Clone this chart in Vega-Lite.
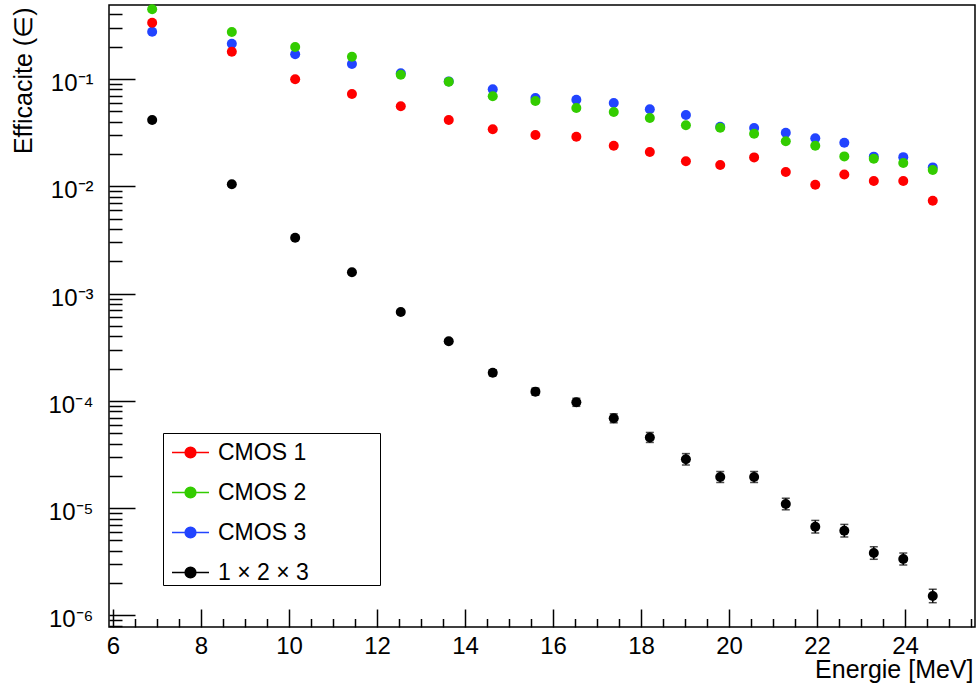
{
  "$schema": "https://vega.github.io/schema/vega-lite/v6.json",
  "width": 866,
  "height": 622,
  "autosize": {"type": "none"},
  "padding": {"left": 109, "top": 5, "right": 3, "bottom": 61},
  "background": "white",
  "config": {
    "font": "Liberation Sans",
    "view": {"stroke": "#000000", "strokeWidth": 1.5},
    "axis": {
      "domain": false,
      "grid": false,
      "labelFont": "Liberation Sans",
      "labelFontSize": 24,
      "labelColor": "#000000",
      "tickColor": "#000000",
      "tickWidth": 1.5,
      "titleFont": "Liberation Sans",
      "titleFontSize": 25,
      "titleFontWeight": "normal",
      "titleColor": "#000000",
      "labelFlush": false,
      "labelOverlap": false,
      "labelBound": false
    }
  },
  "data": {
    "values": [
      {"E": 6.89, "v": 0.276, "s": "CMOS 3"},
      {"E": 8.70, "v": 0.213, "s": "CMOS 3"},
      {"E": 10.14, "v": 0.170, "s": "CMOS 3"},
      {"E": 11.43, "v": 0.138, "s": "CMOS 3"},
      {"E": 12.54, "v": 0.113, "s": "CMOS 3"},
      {"E": 13.63, "v": 0.0950, "s": "CMOS 3"},
      {"E": 14.63, "v": 0.0801, "s": "CMOS 3"},
      {"E": 15.60, "v": 0.0665, "s": "CMOS 3"},
      {"E": 16.53, "v": 0.0641, "s": "CMOS 3"},
      {"E": 17.38, "v": 0.0597, "s": "CMOS 3"},
      {"E": 18.20, "v": 0.0522, "s": "CMOS 3"},
      {"E": 19.02, "v": 0.0462, "s": "CMOS 3"},
      {"E": 19.80, "v": 0.0359, "s": "CMOS 3"},
      {"E": 20.57, "v": 0.0349, "s": "CMOS 3"},
      {"E": 21.29, "v": 0.0316, "s": "CMOS 3"},
      {"E": 21.96, "v": 0.0280, "s": "CMOS 3"},
      {"E": 22.62, "v": 0.0255, "s": "CMOS 3"},
      {"E": 23.29, "v": 0.0189, "s": "CMOS 3"},
      {"E": 23.96, "v": 0.0187, "s": "CMOS 3"},
      {"E": 24.63, "v": 0.0150, "s": "CMOS 3"},
      {"E": 6.89, "v": 0.446, "s": "CMOS 2"},
      {"E": 8.70, "v": 0.274, "s": "CMOS 2"},
      {"E": 10.14, "v": 0.1987, "s": "CMOS 2"},
      {"E": 11.43, "v": 0.1613, "s": "CMOS 2"},
      {"E": 12.54, "v": 0.1097, "s": "CMOS 2"},
      {"E": 13.63, "v": 0.0944, "s": "CMOS 2"},
      {"E": 14.63, "v": 0.0690, "s": "CMOS 2"},
      {"E": 15.60, "v": 0.0624, "s": "CMOS 2"},
      {"E": 16.53, "v": 0.0537, "s": "CMOS 2"},
      {"E": 17.38, "v": 0.0493, "s": "CMOS 2"},
      {"E": 18.20, "v": 0.0433, "s": "CMOS 2"},
      {"E": 19.02, "v": 0.0370, "s": "CMOS 2"},
      {"E": 19.80, "v": 0.0352, "s": "CMOS 2"},
      {"E": 20.57, "v": 0.0309, "s": "CMOS 2"},
      {"E": 21.29, "v": 0.0263, "s": "CMOS 2"},
      {"E": 21.96, "v": 0.0239, "s": "CMOS 2"},
      {"E": 22.62, "v": 0.0190, "s": "CMOS 2"},
      {"E": 23.29, "v": 0.0181, "s": "CMOS 2"},
      {"E": 23.96, "v": 0.0165, "s": "CMOS 2"},
      {"E": 24.63, "v": 0.0142, "s": "CMOS 2"},
      {"E": 6.89, "v": 0.335, "s": "CMOS 1"},
      {"E": 8.70, "v": 0.1797, "s": "CMOS 1"},
      {"E": 10.14, "v": 0.0994, "s": "CMOS 1"},
      {"E": 11.43, "v": 0.0725, "s": "CMOS 1"},
      {"E": 12.54, "v": 0.0557, "s": "CMOS 1"},
      {"E": 13.63, "v": 0.0415, "s": "CMOS 1"},
      {"E": 14.63, "v": 0.0340, "s": "CMOS 1"},
      {"E": 15.60, "v": 0.0301, "s": "CMOS 1"},
      {"E": 16.53, "v": 0.0290, "s": "CMOS 1"},
      {"E": 17.38, "v": 0.0239, "s": "CMOS 1"},
      {"E": 18.20, "v": 0.0209, "s": "CMOS 1"},
      {"E": 19.02, "v": 0.0171, "s": "CMOS 1"},
      {"E": 19.80, "v": 0.0158, "s": "CMOS 1"},
      {"E": 20.57, "v": 0.0186, "s": "CMOS 1"},
      {"E": 21.29, "v": 0.0136, "s": "CMOS 1"},
      {"E": 21.96, "v": 0.01035, "s": "CMOS 1"},
      {"E": 22.62, "v": 0.0129, "s": "CMOS 1"},
      {"E": 23.29, "v": 0.0112, "s": "CMOS 1"},
      {"E": 23.96, "v": 0.0112, "s": "CMOS 1"},
      {"E": 24.63, "v": 0.00734, "s": "CMOS 1"},
      {"E": 6.89, "v": 0.0415, "s": "1 × 2 × 3", "lo": 0.0413, "hi": 0.0417},
      {"E": 8.70, "v": 0.01044, "s": "1 × 2 × 3", "lo": 0.01035, "hi": 0.01053},
      {"E": 10.14, "v": 0.00332, "s": "1 × 2 × 3", "lo": 0.00327, "hi": 0.00337},
      {"E": 11.43, "v": 0.00158, "s": "1 × 2 × 3", "lo": 0.001547, "hi": 0.001614},
      {"E": 12.54, "v": 0.000674, "s": "1 × 2 × 3", "lo": 0.000652, "hi": 0.000696},
      {"E": 13.63, "v": 0.000359, "s": "1 × 2 × 3", "lo": 0.000344, "hi": 0.000375},
      {"E": 14.63, "v": 0.000183, "s": "1 × 2 × 3", "lo": 0.0001717, "hi": 0.0001951},
      {"E": 15.60, "v": 0.000122, "s": "1 × 2 × 3", "lo": 0.0001132, "hi": 0.0001315},
      {"E": 16.53, "v": 0.0000970, "s": "1 × 2 × 3", "lo": 0.0000890, "hi": 0.0001057},
      {"E": 17.38, "v": 0.0000688, "s": "1 × 2 × 3", "lo": 0.0000625, "hi": 0.0000757},
      {"E": 18.20, "v": 0.0000456, "s": "1 × 2 × 3", "lo": 0.0000410, "hi": 0.0000508},
      {"E": 19.02, "v": 0.00002855, "s": "1 × 2 × 3", "lo": 0.00002526, "hi": 0.00003226},
      {"E": 19.80, "v": 0.00001953, "s": "1 × 2 × 3", "lo": 0.00001736, "hi": 0.00002197},
      {"E": 20.57, "v": 0.00001953, "s": "1 × 2 × 3", "lo": 0.00001736, "hi": 0.00002197},
      {"E": 21.29, "v": 0.00001094, "s": "1 × 2 × 3", "lo": 0.00000966, "hi": 0.00001238},
      {"E": 21.96, "v": 0.00000672, "s": "1 × 2 × 3", "lo": 0.00000587, "hi": 0.00000769},
      {"E": 22.62, "v": 0.00000617, "s": "1 × 2 × 3", "lo": 0.00000539, "hi": 0.00000706},
      {"E": 23.29, "v": 0.00000382, "s": "1 × 2 × 3", "lo": 0.00000334, "hi": 0.00000437},
      {"E": 23.96, "v": 0.00000336, "s": "1 × 2 × 3", "lo": 0.000002955, "hi": 0.00000382},
      {"E": 24.63, "v": 0.00000152, "s": "1 × 2 × 3", "lo": 0.000001316, "hi": 0.000001756}
    ]
  },
  "layer": [
    {
      "transform": [{"filter": "isValid(datum.lo)"}],
      "mark": {"type": "errorbar", "color": "#000000", "ticks": {"size": 8, "thickness": 1.5, "color": "#000000"}, "rule": {"strokeWidth": 1.5, "color": "#000000"}},
      "encoding": {
        "x": {"field": "E", "type": "quantitative", "scale": {"domain": [5.909, 25.59], "nice": false, "zero": false}, "axis": null},
        "y": {"field": "lo", "type": "quantitative", "scale": {"type": "log", "domain": [7.81e-7, 0.4895], "nice": false}, "axis": null},
        "y2": {"field": "hi"}
      }
    },
    {
      "mark": {"type": "point", "filled": true, "size": 100, "opacity": 1, "shape": "circle"},
      "encoding": {
        "x": {
          "field": "E", "type": "quantitative",
          "scale": {"domain": [5.909, 25.59], "nice": false, "zero": false},
          "axis": {
            "orient": "bottom",
            "values": [6, 8, 10, 12, 14, 16, 18, 20, 22, 24],
            "tickSize": -18,
            "labelPadding": 25,
            "labelBaseline": "top",
            "title": "Energie [MeV]",
            "titleAnchor": "end",
            "titleAlign": "right",
            "titleBaseline": "alphabetic",
            "titleX": 864,
            "titleY": 50
          }
        },
        "y": {
          "field": "v", "type": "quantitative",
          "scale": {"type": "log", "domain": [7.81e-7, 0.4895], "nice": false},
          "axis": {
            "orient": "left",
            "values": [0.000001, 0.00001, 0.0001, 0.001, 0.01, 0.1],
            "tickSize": -26,
            "labelPadding": 42,
            "labelAlign": "right",
            "labelBaseline": "alphabetic",
            "labelOffset": 11.5,
            "labelExpr": "datum.value < 2e-6 ? '10⁻⁶' : datum.value < 2e-5 ? '10⁻⁵' : datum.value < 2e-4 ? '10⁻⁴' : datum.value < 2e-3 ? '10⁻³' : datum.value < 2e-2 ? '10⁻²' : '10⁻¹'",
            "title": "Efficacite (∈)",
            "titleAngle": 270,
            "titleAlign": "right",
            "titleBaseline": "middle",
            "titleX": -86,
            "titleY": 2
          }
        },
        "color": {
          "field": "s", "type": "nominal",
          "scale": {"domain": ["CMOS 1", "CMOS 2", "CMOS 3", "1 × 2 × 3"], "range": ["#ff0000", "#33cc00", "#2244ff", "#000000"]},
          "legend": {
            "title": "xxxxxx",
            "titleOrient": "right",
            "titleFontSize": 21,
            "titleFont": "Liberation Sans",
            "titleOpacity": 0,
            "titlePadding": 0,
            "titleLimit": 400,
            "orient": "none",
            "legendX": 54,
            "legendY": 428,
            "padding": 0,
            "rowPadding": 8,
            "symbolOffset": 8,
            "labelOffset": 8,
            "labelFont": "Liberation Sans",
            "labelFontSize": 23,
            "labelColor": "#000000",
            "labelLimit": 400,
            "symbolType": "M-1,0L1,0M-0.29,0A0.29,0.29,0,1,1,0.29,0A0.29,0.29,0,1,1,-0.29,0Z",
            "symbolSize": 1369,
            "symbolStrokeWidth": 1.5,
            "symbolOpacity": 1,
            "strokeColor": "#000000",
            "fillColor": "#ffffff",
            "encode": {
              "symbols": {
                "update": {
                  "fill": {"scale": "color", "field": "value"},
                  "stroke": {"scale": "color", "field": "value"},
                  "strokeWidth": {"value": 1.5},
                  "opacity": {"value": 1}
                }
              }
            }
          }
        }
      }
    },
    {
      "mark": {"type": "point", "opacity": 0},
      "encoding": {
        "x": {
          "field": "E", "type": "quantitative",
          "scale": {"domain": [5.909, 25.59], "nice": false, "zero": false},
          "axis": {
            "orient": "bottom",
            "values": [6.5, 7, 7.5, 8.5, 9, 9.5, 10.5, 11, 11.5, 12.5, 13, 13.5, 14.5, 15, 15.5, 16.5, 17, 17.5, 18.5, 19, 19.5, 20.5, 21, 21.5, 22.5, 23, 23.5, 24.5, 25, 25.5],
            "tickSize": -8.5,
            "labels": false,
            "title": null
          }
        },
        "y": {
          "field": "v", "type": "quantitative",
          "scale": {"type": "log", "domain": [7.81e-7, 0.4895], "nice": false},
          "axis": {
            "orient": "left",
            "values": [8e-7, 9e-7, 2e-6, 3e-6, 4e-6, 5e-6, 6e-6, 7e-6, 8e-6, 9e-6, 2e-5, 3e-5, 4e-5, 5e-5, 6e-5, 7e-5, 8e-5, 9e-5, 0.0002, 0.0003, 0.0004, 0.0005, 0.0006, 0.0007, 0.0008, 0.0009, 0.002, 0.003, 0.004, 0.005, 0.006, 0.007, 0.008, 0.009, 0.02, 0.03, 0.04, 0.05, 0.06, 0.07, 0.08, 0.09, 0.2, 0.3, 0.4],
            "tickSize": -13,
            "labels": false,
            "title": null
          }
        }
      }
    }
  ],
  "resolve": {"axis": {"x": "independent", "y": "independent"}}
}
